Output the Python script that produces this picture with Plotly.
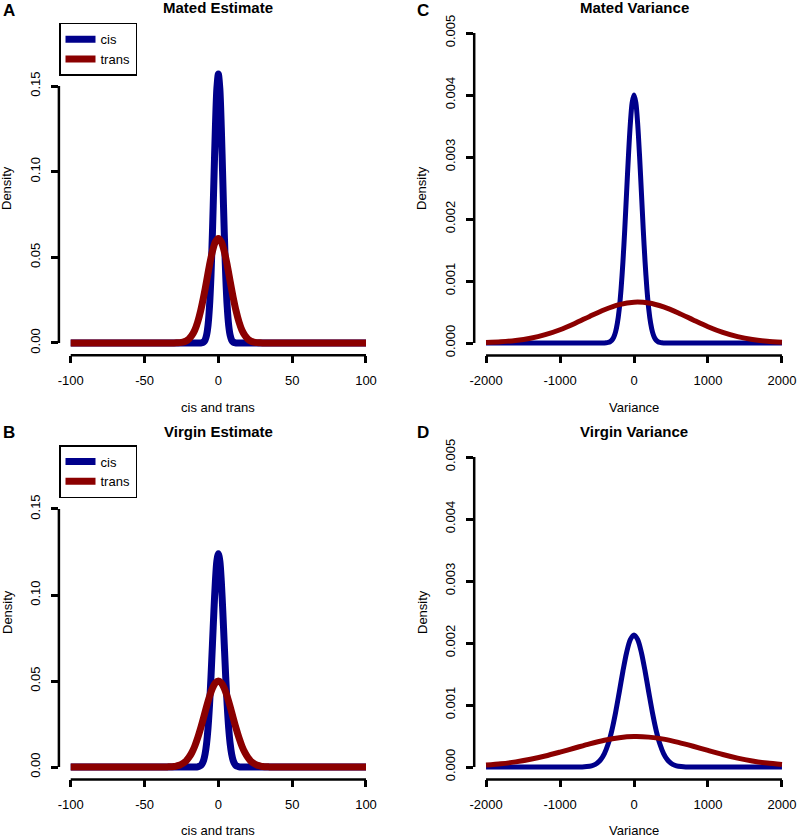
import plotly.graph_objects as go

# ---------------- data ----------------
# Panel A: Mated Estimate
a_cis_x = [-100, -50, -20, -14, -12, -11, -10, -9, -8, -7, -6, -5, -4, -3, -2, -1, 0,
           1, 2, 3, 4, 5, 6, 7, 8, 9, 10, 11, 12, 14, 20, 50, 100]
a_cis_y = [0, 0, 0, 0, 0, 0.0002, 0.0006, 0.0017, 0.0045, 0.0103, 0.0212, 0.0392, 0.0645, 0.0952, 0.1257, 0.1485, 0.157,
           0.1485, 0.1257, 0.0952, 0.0645, 0.0392, 0.0212, 0.0103, 0.0045, 0.0017, 0.0006, 0.0002, 0, 0, 0, 0, 0]
a_trans_x = [-100, -50, -36, -30, -28, -26, -24, -22, -20, -18, -16, -14, -12, -10, -8, -6, -4, -2, 0,
             2, 4, 6, 8, 10, 12, 14, 16, 18, 20, 22, 24, 26, 28, 30, 36, 50, 100]
a_trans_y = [0, 0, 0, 0, 0.0001, 0.0002, 0.0005, 0.0011, 0.0023, 0.0043, 0.0074, 0.0122, 0.0187, 0.0268, 0.0360, 0.0454, 0.0535, 0.0590, 0.061,
             0.0590, 0.0535, 0.0454, 0.0360, 0.0268, 0.0187, 0.0122, 0.0074, 0.0043, 0.0023, 0.0011, 0.0005, 0.0002, 0.0001, 0, 0, 0, 0]

# Panel B: Virgin Estimate
b_cis_x = [-100, -50, -20, -16, -14, -13, -12, -11, -10, -9, -8, -7, -6, -5, -4, -3, -2, -1, 0,
           1, 2, 3, 4, 5, 6, 7, 8, 9, 10, 11, 12, 13, 14, 16, 20, 50, 100]
b_cis_y = [0, 0, 0, 0, 0.0001, 0.0004, 0.0008, 0.0019, 0.0039, 0.0075, 0.0135, 0.0227, 0.0357, 0.0522, 0.0713, 0.0908, 0.1080, 0.1198, 0.124,
           0.1198, 0.1080, 0.0908, 0.0713, 0.0522, 0.0357, 0.0227, 0.0135, 0.0075, 0.0039, 0.0019, 0.0008, 0.0004, 0.0001, 0, 0, 0, 0]
b_trans_x = [-100, -50, -36, -34, -32, -30, -28, -26, -24, -22, -20, -18, -16, -14, -12, -10, -8, -6, -4, -2, 0,
             2, 4, 6, 8, 10, 12, 14, 16, 18, 20, 22, 24, 26, 28, 30, 32, 34, 36, 50, 100]
b_trans_y = [0, 0, 0, 0.0001, 0.0002, 0.0003, 0.0007, 0.0012, 0.0021, 0.0034, 0.0055, 0.0083, 0.0121, 0.0169, 0.0225, 0.0287, 0.0351, 0.0410, 0.0458, 0.0489, 0.050,
             0.0489, 0.0458, 0.0410, 0.0351, 0.0287, 0.0225, 0.0169, 0.0121, 0.0083, 0.0055, 0.0034, 0.0021, 0.0012, 0.0007, 0.0003, 0.0002, 0.0001, 0, 0, 0]

# Panel C: Mated Variance
c_cis_x = [-2000, -1000, -500, -400, -375, -350, -325, -300, -275, -250, -225, -200, -175, -150, -125, -100, -75, -50, -25, 0,
           25, 50, 75, 100, 125, 150, 175, 200, 225, 250, 275, 300, 325, 350, 375, 400, 500, 1000, 2000]
c_cis_y = [0, 0, 0, 0.000001, 0.0000035, 0.000009, 0.00002, 0.000044, 0.000091, 0.000176, 0.000318, 0.00054, 0.000866, 0.0013, 0.00183, 0.00243, 0.00302, 0.00353, 0.003877, 0.0040,
           0.003877, 0.00353, 0.00302, 0.00243, 0.00183, 0.0013, 0.000866, 0.00054, 0.000318, 0.000176, 0.000091, 0.000044, 0.00002, 0.000009, 0.0000035, 0.000001, 0, 0, 0]
c_trans_x = [-2000, -1800, -1600, -1400, -1200, -1000, -800, -600, -400, -200, 0,
             200, 400, 600, 800, 1000, 1200, 1400, 1600, 1800, 2000]
c_trans_y = [0.000009, 0.00002, 0.000041, 0.000077, 0.000134, 0.000214, 0.000316, 0.000429, 0.000537, 0.000619, 0.000658,
             0.000645, 0.000582, 0.000485, 0.000372, 0.000263, 0.000171, 0.000103, 0.000057, 0.000029, 0.000014]

# Panel D: Virgin Variance
d_cis_x = [-2000, -1000, -800, -700, -600, -550, -500, -450, -400, -350, -300, -250, -200, -150, -100, -50, 0,
           50, 100, 150, 200, 250, 300, 350, 400, 450, 500, 550, 600, 700, 800, 1000, 2000]
d_cis_y = [0, 0, 0, 0.000002, 0.000012, 0.000028, 0.00006, 0.000118, 0.000216, 0.00037, 0.000588, 0.000871, 0.001202, 0.001544, 0.001846, 0.002055, 0.00213,
           0.002055, 0.001846, 0.001544, 0.001202, 0.000871, 0.000588, 0.00037, 0.000216, 0.000118, 0.00006, 0.000028, 0.000012, 0.000002, 0, 0, 0]
d_trans_x = [-2000, -1800, -1600, -1400, -1200, -1000, -800, -600, -400, -200, 0,
             200, 400, 600, 800, 1000, 1200, 1400, 1600, 1800, 2000]
d_trans_y = [0.000031, 0.000052, 0.000083, 0.000124, 0.000177, 0.00024, 0.000307, 0.000374, 0.000431, 0.000472, 0.00049,
             0.000482, 0.00045, 0.000398, 0.000335, 0.000267, 0.000201, 0.000144, 0.000098, 0.000063, 0.000039]

est_xticks = [-100, -50, 0, 50, 100]
est_yticks = [0, 0.05, 0.10, 0.15]
est_ylabels = ["0.00", "0.05", "0.10", "0.15"]
var_xticks = [-2000, -1000, 0, 1000, 2000]
var_yticks = [0, 0.001, 0.002, 0.003, 0.004, 0.005]
var_ylabels = ["0.000", "0.001", "0.002", "0.003", "0.004", "0.005"]

series_names = ["cis", "trans"]
titles = ["Mated Estimate", "Mated Variance", "Virgin Estimate", "Virgin Variance"]
letters = ["A", "C", "B", "D"]
xlabels = ["cis and trans", "Variance", "cis and trans", "Variance"]

# ---------------- styling ----------------
BLUE = "#00008B"
RED = "#8B0000"
FONT = "Liberation Sans, Arial, Helvetica, sans-serif"
W, H = 797, 837


def pxx(x):
    return x / W


def pyy(y):
    return 1 - y / H


fig = go.Figure()

panel_data = [
    (a_cis_x, a_cis_y, a_trans_x, a_trans_y, "x", "y", 7, "legend"),
    (c_cis_x, c_cis_y, c_trans_x, c_trans_y, "x2", "y2", 5, None),
    (b_cis_x, b_cis_y, b_trans_x, b_trans_y, "x3", "y3", 7, "legend2"),
    (d_cis_x, d_cis_y, d_trans_x, d_trans_y, "x4", "y4", 5, None),
]

for cx, cy, tx, ty, xa, ya, lw, leg in panel_data:
    for xs, ys, col, nm in [(cx, cy, BLUE, series_names[0]), (tx, ty, RED, series_names[1])]:
        kw = dict(x=xs, y=ys, mode="lines", name=nm, xaxis=xa, yaxis=ya,
                  line=dict(color=col, width=lw, shape="spline", smoothing=0.8), hoverinfo="x+y")
        if leg:
            kw["legend"] = leg
            kw["showlegend"] = True
        else:
            kw["showlegend"] = False
        fig.add_trace(go.Scatter(**kw))

# (left, right, top, bottom) of plotting regions, pixels
regions = [
    (58.9, 377.8, 22.3, 355.3),
    (474.2, 793.8, 20.6, 355.4),
    (58.9, 377.8, 445.0, 779.4),
    (474.2, 793.8, 444.6, 779.4),
]
xranges = [[-108, 108], [-2160, 2160], [-108, 108], [-2160, 2160]]
yranges = [[-0.0072, 0.1872], [-0.0002, 0.0052], [-0.0072, 0.1872], [-0.0002, 0.0052]]

tickfont = dict(family=FONT, size=13, color="black")
axis_common = dict(showgrid=False, zeroline=False, showline=False, ticks="outside",
                   ticklen=7, tickwidth=2.5, tickcolor="black", tickfont=tickfont,
                   automargin=False)

layout = dict(
    width=W, height=H, margin=dict(l=0, r=0, t=0, b=0, autoexpand=False),
    paper_bgcolor="white", plot_bgcolor="white",
    font=dict(family=FONT, size=13, color="black"),
)

shapes = []
annotations = []
for i, (l, r, t, b) in enumerate(regions):
    sfx = "" if i == 0 else str(i + 1)
    is_est = i in (0, 2)
    xt = est_xticks if is_est else var_xticks
    yt = est_yticks if is_est else var_yticks
    layout["xaxis" + sfx] = dict(
        axis_common, domain=[pxx(l), pxx(r)], range=xranges[i], anchor="y" + sfx,
        tickvals=xt, ticktext=[str(v) for v in xt],
        ticklabelstandoff=6,
    )
    layout["yaxis" + sfx] = dict(
        axis_common, domain=[pyy(b), pyy(t)], range=yranges[i], anchor="x" + sfx,
        tickvals=yt, ticktext=est_ylabels if is_est else var_ylabels,
        tickangle=-90, ticklabelstandoff=6,
    )
    xr = "x" + sfx
    yr = "y" + sfx
    # R-style axis lines spanning first..last tick
    shapes.append(dict(type="line", xref=xr, yref=yr + " domain", x0=xt[0], x1=xt[-1], y0=0, y1=0,
                       line=dict(color="black", width=2.5)))
    shapes.append(dict(type="line", xref=xr + " domain", yref=yr, x0=0, x1=0, y0=yt[0], y1=yt[-1],
                       line=dict(color="black", width=2.5)))
    cxp = (l + r) / 2
    top_row = i < 2
    # title
    annotations.append(dict(text="<b>%s</b>" % titles[i], xref="paper", yref="paper",
                            x=pxx(cxp), y=pyy(7.5 if top_row else 431), xanchor="center", yanchor="middle",
                            showarrow=False, font=dict(family=FONT, size=15, color="black")))
    # panel letter
    annotations.append(dict(text="<b>%s</b>" % letters[i], xref="paper", yref="paper",
                            x=pxx(8.5 if i in (0, 2) else 423), y=pyy(10.5 if top_row else 432),
                            xanchor="center", yanchor="middle",
                            showarrow=False, font=dict(family=FONT, size=17, color="black")))
    # x label
    annotations.append(dict(text=xlabels[i], xref="paper", yref="paper",
                            x=pxx(cxp), y=pyy(407 if top_row else 830), xanchor="center", yanchor="middle",
                            showarrow=False, font=dict(family=FONT, size=13, color="black")))
    # y label
    annotations.append(dict(text="Density", xref="paper", yref="paper",
                            x=pxx(7 if i in (0, 2) else 422), y=pyy(188 if top_row else 612),
                            xanchor="center", yanchor="middle",
                            textangle=-90, showarrow=False, font=dict(family=FONT, size=13, color="black")))

legend_common = dict(xanchor="left", yanchor="top", bgcolor="white", bordercolor="black",
                     borderwidth=1.5, font=dict(family=FONT, size=13, color="black"),
                     tracegroupgap=0, itemwidth=30)
layout["legend"] = dict(legend_common, x=pxx(59), y=pyy(22.7))
layout["legend2"] = dict(legend_common, x=pxx(59), y=pyy(445))
layout["shapes"] = shapes
layout["annotations"] = annotations

fig.update_layout(**layout)
fig.write_html(
    "out.html",
    config={"displayModeBar": False},
    post_script="document.body.style.margin='0';document.body.style.padding='0';"
                "document.body.style.overflow='hidden';",
)
